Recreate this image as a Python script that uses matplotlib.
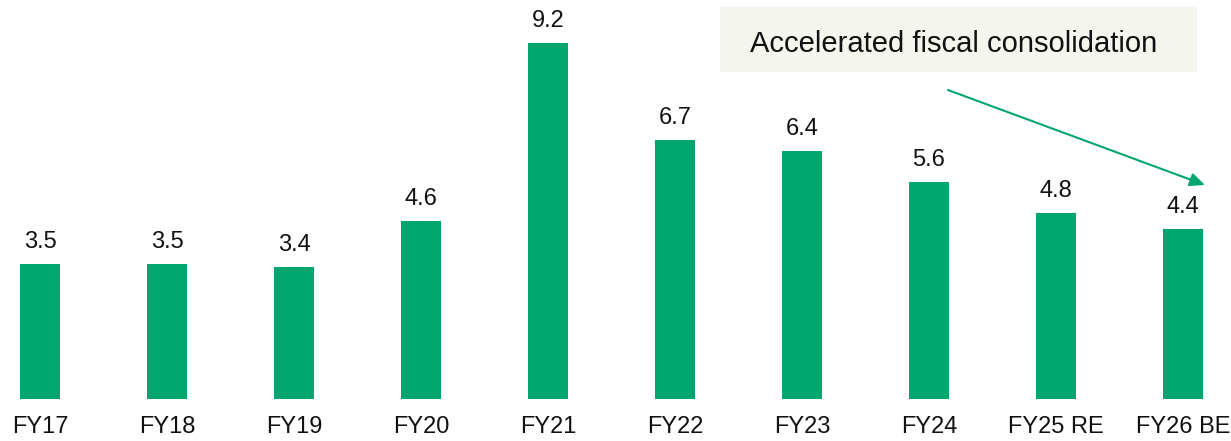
import matplotlib
matplotlib.use("Agg")
import matplotlib.pyplot as plt
from matplotlib.patches import Rectangle

categories = ["FY17", "FY18", "FY19", "FY20", "FY21", "FY22", "FY23", "FY24", "FY25 RE", "FY26 BE"]
values = [3.5, 3.5, 3.4, 4.6, 9.2, 6.7, 6.4, 5.6, 4.8, 4.4]
value_labels = ["3.5", "3.5", "3.4", "4.6", "9.2", "6.7", "6.4", "5.6", "4.8", "4.4"]
annotation_text = "Accelerated fiscal consolidation"

plt.rcParams['font.family'] = ['Liberation Sans', 'DejaVu Sans']

W, H = 1231, 441
fig = plt.figure(figsize=(W / 100, H / 100), dpi=100)
ax = fig.add_axes([0, 42 / H, 1, 399 / H])

green = "#00A66E"
x = list(range(len(categories)))
bars = ax.bar(x, values, width=0.315, color=green)
ax.set_xlim(-40 / 127, (W - 40) / 127)
ax.set_ylim(0, 399 / 38.7)

for xi, v, lab in zip(x, values, value_labels):
    ax.annotate(lab, (xi, v), xytext=(0, 11.5), textcoords="offset points",
                ha="center", va="baseline", fontsize=17, color="#111111")

ax.set_xticks(x)
ax.set_xticklabels(categories, fontsize=17, color="#111111")
ax.tick_params(axis="x", length=0, pad=12)
ax.set_yticks([])
for s in ax.spines.values():
    s.set_visible(False)

# annotation box (figure pixel coords)
box = Rectangle((720 / W, 1 - 72 / H), (1197 - 720) / W, (72 - 7) / H,
                transform=fig.transFigure, facecolor="#F4F5EC", edgecolor="none", zorder=0)
fig.patches.append(box)
fig.text(954 / W, 1 - 52 / H, annotation_text, ha="center", va="baseline",
         fontsize=21, color="#111111")

# arrow
ax.annotate("", xy=((1205 - 40) / 127, (399 - 185) / 38.7),
            xytext=((948 - 40) / 127, (399 - 90) / 38.7),
            arrowprops=dict(arrowstyle="-|>,head_length=0.9,head_width=0.4",
                            color=green, lw=1.5, shrinkA=0, shrinkB=0))

fig.savefig("out.png", dpi=100)
